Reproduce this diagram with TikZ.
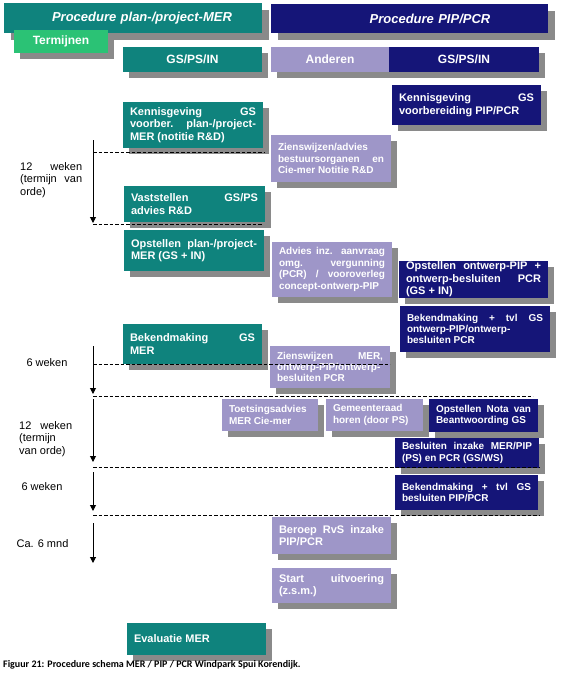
\documentclass[tikz,border=0pt]{standalone}
\usepackage{fontspec}
\setmainfont{Liberation Sans}
\newfontfamily\capfont{Carlito}
\usetikzlibrary{shadows,arrows.meta}
\definecolor{tealc}{HTML}{0F837D}
\definecolor{navyc}{HTML}{151578}
\definecolor{lavc}{HTML}{9E96C8}
\definecolor{grnc}{HTML}{2BC275}
\definecolor{shadowc}{HTML}{8A8A8A}
\tikzset{
  shad/.style={drop shadow={shadow xshift=#1, shadow yshift=-#1, fill=shadowc, opacity=1}},
  shad/.default=6pt,
  boxbase/.style={rectangle, inner xsep=7pt, inner ysep=0.5pt, text=white, align=justify,
    execute at begin node={\hyphenpenalty=10000 \exhyphenpenalty=10000 \tolerance=10000 \hbadness=10000}},
  fsA/.style={font=\fontsize{11}{12.6}\selectfont\bfseries},
  fsB/.style={font=\fontsize{10}{11.4}\selectfont\bfseries},
  tealbox/.style={boxbase, shad, fill=tealc, fsA},
  lavbox/.style={boxbase, shad, fill=lavc, fsB},
  lavboxA/.style={boxbase, shad, fill=lavc, fsA},
  navybox/.style={boxbase, shad, fill=navyc, fsB},
  navyboxA/.style={boxbase, shad, fill=navyc, fsA},
  hdrbox/.style={boxbase, shad=7pt, align=center, font=\fontsize{13}{15}\selectfont\bfseries\itshape},
  colbox/.style={boxbase, shad, align=center, font=\fontsize{12}{14}\selectfont\bfseries},
  lbl/.style={inner sep=0pt, text=black, font=\fontsize{11}{12.6}\selectfont},
  arr/.style={line width=1pt, -{Triangle[width=6pt,length=6pt]}},
  dline/.style={line width=0.8pt, dash pattern=on 3.5pt off 2pt},
}
\newcommand\bx[7]{%
  \pgfmathsetmacro\bxw{#5-#3}%
  \pgfmathsetmacro\bxh{#6-#4}%
  \pgfmathsetmacro\bxt{#5-#3-14}%
  \node[#2, minimum width=\bxw pt, minimum height=\bxh pt, text width=\bxt pt] (#1) at ({(#3+#5)/2},{(#4+#6)/2}) {#7};}
\begin{document}
\begin{tikzpicture}[x=1pt,y=-1pt]
\fill[white] (0,0) rectangle (565,675);
\useasboundingbox (0,0) rectangle (565,675);

% headers
\bx{hdrL}{hdrbox, fill=tealc}{4}{3}{262}{33}{\hspace*{18pt}Procedure plan-/project-MER}
\bx{hdrR}{hdrbox, fill=navyc}{271}{4}{548}{33}{\hspace*{41pt}Procedure PIP/PCR}
\bx{term}{colbox, fill=grnc}{14}{30}{108}{53}{Termijnen}
\bx{gsL}{colbox, fill=tealc}{123}{47}{262}{72}{GS/PS/IN}
\bx{and}{colbox, fill=lavc}{271}{47}{389}{72}{Anderen}
\bx{gsR}{colbox, fill=navyc}{389}{47}{539}{72}{GS/PS/IN}

% boxes
\bx{ken2}{navyboxA}{392}{85}{541}{125}{Kennisgeving GS\linebreak voorbereiding PIP/PCR}
\bx{ken1}{tealbox}{123}{102}{263}{148}{Kennisgeving GS\linebreak voorber. plan-/project-\linebreak MER (notitie R\&D)}
\bx{zien1}{lavbox}{271}{135}{391}{182}{Zienswijzen/advies\linebreak bestuursorganen en\linebreak Cie-mer Notitie R\&D}
\bx{vast}{tealbox}{124}{186}{265}{222}{Vaststellen GS/PS\linebreak advies R\&D}
\bx{opst1}{tealbox}{124}{230}{264}{271}{Opstellen plan-/project-\linebreak MER (GS + IN)}
\bx{adv}{lavbox}{272}{242}{392}{297}{Advies inz. aanvraag\linebreak omg. vergunning\linebreak (PCR) / vooroverleg\linebreak concept-ontwerp-PIP}
\bx{opst2}{navyboxA}{399}{261}{548}{298}{Opstellen ontwerp-PIP +\linebreak ontwerp-besluiten PCR\linebreak (GS + IN)}
\bx{bek1}{navybox}{400}{306}{550}{352}{Bekendmaking + tvl GS\linebreak ontwerp-PIP/ontwerp-\linebreak besluiten PCR}
\bx{bekG}{tealbox}{123}{324}{262}{364}{Bekendmaking GS\linebreak MER}
\bx{zien2}{lavbox}{270}{346}{390}{388}{Zienswijzen MER,\linebreak ontwerp-PIP/ontwerp-\linebreak besluiten PCR}
\bx{toets}{lavbox}{222}{399}{318}{431}{Toetsingsadvies\linebreak MER Cie-mer}
\bx{gem}{lavbox}{326}{399}{423}{431}{Gemeenteraad\linebreak horen (door PS)}
\bx{nota}{navybox}{429}{399}{538}{432}{Opstellen Nota van\linebreak Beantwoording GS}
\bx{besl}{navybox}{395}{438}{539}{468}{Besluiten inzake MER/PIP\linebreak (PS) en PCR (GS/WS)}
\bx{bek2}{navybox}{395}{475}{538}{510}{Bekendmaking + tvl GS\linebreak besluiten PIP/PCR}
\bx{ber}{lavboxA}{272}{517}{391}{554}{Beroep RvS inzake\linebreak PIP/PCR}
\bx{start}{lavboxA}{272}{568}{391}{603}{Start uitvoering\linebreak (z.s.m.)}
\bx{eval}{tealbox}{127}{623}{266}{655}{Evaluatie MER}

% dashed lines
\coordinate (d1a) at (93,152); \coordinate (d1b) at (265,152);
\coordinate (d2a) at (93,224); \coordinate (d2b) at (263,224);
\coordinate (d3a) at (93,364); \coordinate (d3b) at (390,364);
\coordinate (d4a) at (93,396); \coordinate (d4b) at (533,396);
\coordinate (d5a) at (93,467); \coordinate (d5b) at (539,467);
\coordinate (d6a) at (93,515); \coordinate (d6b) at (540,515);
\foreach \i in {1,...,6} {\draw[dline] (d\i a) -- (d\i b);}

% arrows
\coordinate (a1a) at (93,140); \coordinate (a1b) at (93,223);
\coordinate (a2a) at (93,346); \coordinate (a2b) at (93,394);
\coordinate (a3a) at (93,399); \coordinate (a3b) at (93,462);
\coordinate (a4a) at (93,472); \coordinate (a4b) at (93,511);
\coordinate (a5a) at (93,523); \coordinate (a5b) at (93,563);
\foreach \i in {1,...,5} {\draw[arr] (a\i a) -- (a\i b);}

% period labels
\node[lbl, anchor=north west, text width=62pt, align=justify,
  execute at begin node={\tolerance=10000 \hbadness=10000}] (t1) at (20,162)
  {12 weken\linebreak (termijn van\linebreak orde)};
\node[lbl] (t2) at (47,363) {6 weken};
\node[lbl, anchor=north west, text width=53pt, align=justify,
  execute at begin node={\tolerance=10000 \hbadness=10000}] (t3) at (19,421)
  {12 weken\linebreak (termijn\linebreak van orde)};
\node[lbl] (t4) at (42,487) {6 weken};
\node[lbl] (t5) at (42.5,544) {Ca. 6 mnd};

% caption
\node[anchor=west, inner sep=0pt, font=\capfont\fontsize{10}{12}\selectfont\bfseries] (cap) at (3,665)
  {Figuur 21: Procedure schema MER / PIP / PCR Windpark Spui Korendijk.};
\end{tikzpicture}
\end{document}
